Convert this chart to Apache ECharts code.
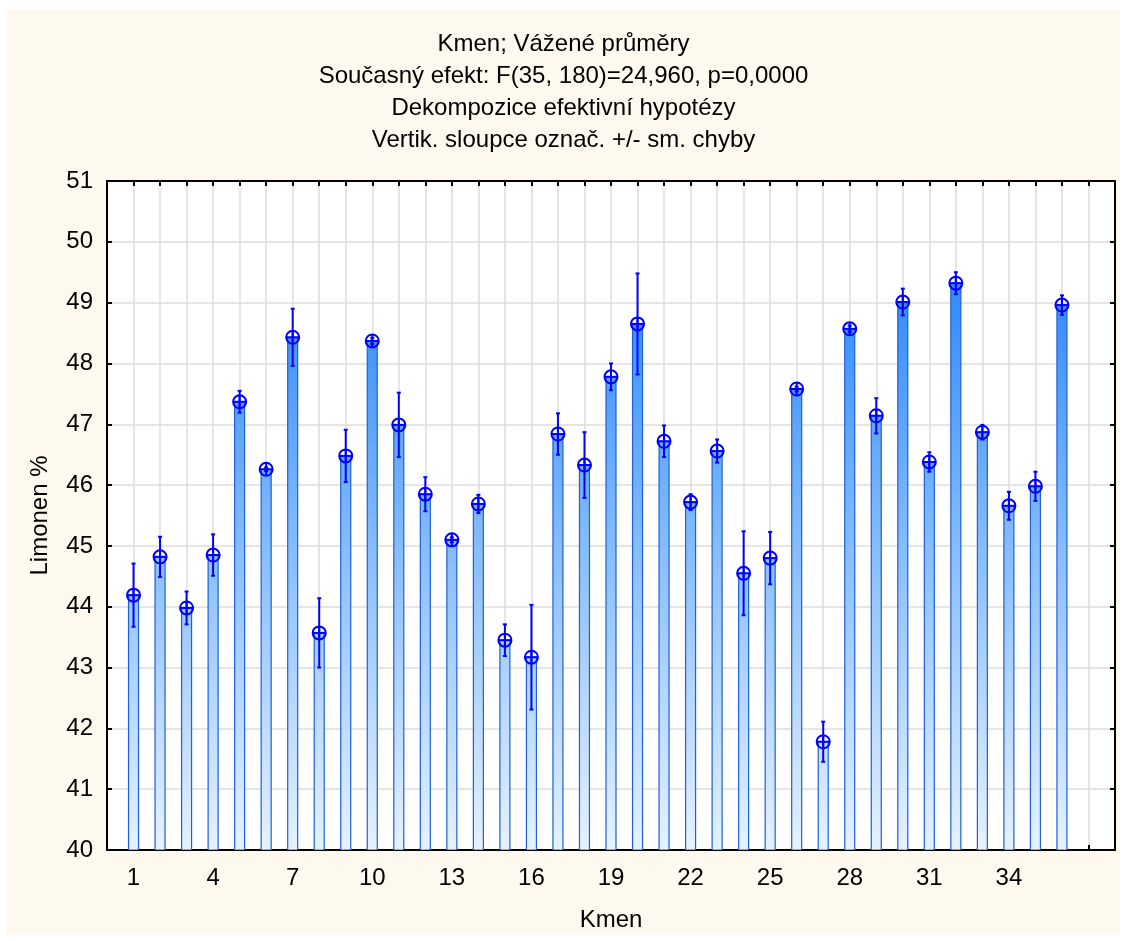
<!DOCTYPE html>
<html>
<head>
<meta charset="utf-8">
<script src="https://cdn.jsdelivr.net/npm/echarts@6/dist/echarts.min.js"></script>
<style>
html,body{margin:0;padding:0;background:#ffffff;}
#bg{position:absolute;left:7px;top:10px;width:1113px;height:925px;background:#fdf9ee;}
#chart{position:absolute;left:0;top:0;width:1127px;height:941px;}
</style>
</head>
<body>
<div id="bg"></div>
<div id="chart"></div>
<script>
// ---- data ----
const kmen = [1,2,3,4,5,6,7,8,9,10,11,12,13,14,15,16,17,18,19,20,21,22,23,24,25,26,27,28,29,30,31,32,33,34,35,36];
const means = [44.19,44.82,43.98,44.85,47.37,46.26,48.43,43.57,46.48,48.37,46.99,45.85,45.10,45.69,43.45,43.17,46.84,46.33,47.78,48.65,46.72,45.72,46.56,44.55,44.80,47.58,41.78,48.57,47.14,49.01,46.38,49.32,46.87,45.66,45.98,48.96];
const se = [0.52,0.33,0.27,0.34,0.18,0.03,0.47,0.57,0.43,0.05,0.53,0.28,0.04,0.15,0.26,0.86,0.34,0.54,0.22,0.83,0.26,0.13,0.19,0.69,0.43,0.04,0.33,0.05,0.29,0.22,0.16,0.18,0.12,0.23,0.24,0.16];
const xLabelTicks = [1,4,7,10,13,16,19,22,25,28,31,34];
const titleLines = ['Kmen; Vážené průměry','Současný efekt: F(35, 180)=24,960, p=0,0000','Dekompozice efektivní hypotézy','Vertik. sloupce označ. +/- sm. chyby'];
const xName = 'Kmen';
const yName = 'Limonen %';

const FONT = '"Liberation Sans", Arial, sans-serif';
const FS = 24;
const chart = echarts.init(document.getElementById('chart'), null, {renderer:'canvas'});

const barData = kmen.map((k,i)=>[k, means[i]]);
const errData = kmen.map((k,i)=>[k, means[i], means[i]-se[i], means[i]+se[i]]);

function barFill(){
  return new echarts.graphic.LinearGradient(0, 181, 0, 850, [
    {offset:0, color:'#1c7cff'},
    {offset:0.2, color:'#3a90fb'},
    {offset:0.55, color:'#86bdfb'},
    {offset:1, color:'#e6f2ff'}
  ], true);
}

const axisCommon = {
  type:'value', min:0, max:38, interval:1
};

const option = {
  backgroundColor:'transparent',
  animation:false,
  title:{
    text: titleLines.join('\n'),
    left:'center', top:23,
    textStyle:{fontFamily:FONT, fontSize:FS, fontWeight:'normal', color:'#000', lineHeight:32}
  },
  grid:{left:107, top:181, right:12, bottom:91, show:true, backgroundColor:'#ffffff', borderColor:'#000', borderWidth:0},
  xAxis:[
    Object.assign({}, axisCommon, {
      position:'bottom',
      name:xName, nameLocation:'middle', nameGap:58,
      nameTextStyle:{fontFamily:FONT, fontSize:FS, color:'#000'},
      axisLine:{show:true, lineStyle:{color:'#000', width:2}},
      axisTick:{show:true, inside:true, length:5, lineStyle:{color:'#000', width:2}},
      axisLabel:{fontFamily:FONT, fontSize:FS, color:'#000', margin:16,
        formatter:function(v){return xLabelTicks.indexOf(v)>=0 ? String(v) : '';}},
      splitLine:{show:true, lineStyle:{color:'#dcdcdc', width:1.5}}
    }),
    Object.assign({}, axisCommon, {
      position:'top',
      axisLine:{show:true, onZero:false, lineStyle:{color:'#000', width:2}},
      axisTick:{show:true, inside:true, length:5, lineStyle:{color:'#000', width:2}},
      axisLabel:{show:false},
      splitLine:{show:false}
    })
  ],
  yAxis:[
    {
      type:'value', min:40, max:51, interval:1, position:'left',
      name:yName, nameLocation:'middle', nameGap:55, nameRotate:90,
      nameTextStyle:{fontFamily:FONT, fontSize:FS, color:'#000'},
      axisLine:{show:true, onZero:false, lineStyle:{color:'#000', width:2}},
      axisTick:{show:true, inside:true, length:5, lineStyle:{color:'#000', width:2}},
      axisLabel:{fontFamily:FONT, fontSize:FS, color:'#000', margin:14},
      splitLine:{show:true, lineStyle:{color:'#dcdcdc', width:1.5}}
    },
    {
      type:'value', min:40, max:51, interval:1, position:'right',
      axisLine:{show:true, onZero:false, lineStyle:{color:'#000', width:2}},
      axisTick:{show:true, inside:true, length:5, lineStyle:{color:'#000', width:2}},
      axisLabel:{show:false},
      splitLine:{show:false}
    }
  ],
  series:[
    {
      type:'custom', xAxisIndex:0, yAxisIndex:0,
      data: barData,
      clip:true,
      renderItem:function(params, api){
        const top = api.coord([api.value(0), api.value(1)]);
        const base = api.coord([api.value(0), 40]);
        const w = 10;
        return {
          type:'rect',
          shape:{x:top[0]-w/2, y:top[1], width:w, height:base[1]-top[1]},
          style:{fill:barFill(), stroke:'#1f5fd8', lineWidth:1.2}
        };
      },
      z:2
    },
    {
      type:'custom', xAxisIndex:0, yAxisIndex:0,
      data: errData,
      renderItem:function(params, api){
        const c = api.coord([api.value(0), api.value(1)]);
        const lo = api.coord([api.value(0), api.value(2)]);
        const hi = api.coord([api.value(0), api.value(3)]);
        const cap = 2;
        const r = 6.5;
        const st = {stroke:'#0000ff', lineWidth:2, fill:null};
        return {
          type:'group',
          children:[
            {type:'line', shape:{x1:c[0], y1:hi[1], x2:c[0], y2:lo[1]}, style:st},
            {type:'line', shape:{x1:c[0]-cap, y1:hi[1], x2:c[0]+cap, y2:hi[1]}, style:st},
            {type:'line', shape:{x1:c[0]-cap, y1:lo[1], x2:c[0]+cap, y2:lo[1]}, style:st},
            {type:'line', shape:{x1:c[0]-r, y1:c[1], x2:c[0]+r, y2:c[1]}, style:st},
            {type:'line', shape:{x1:c[0], y1:c[1]-r, x2:c[0], y2:c[1]+r}, style:st},
            {type:'circle', shape:{cx:c[0], cy:c[1], r:r}, style:{stroke:'#0000ff', lineWidth:2, fill:'none'}}
          ]
        };
      },
      z:3
    }
  ]
};
chart.setOption(option);
</script>
</body>
</html>
